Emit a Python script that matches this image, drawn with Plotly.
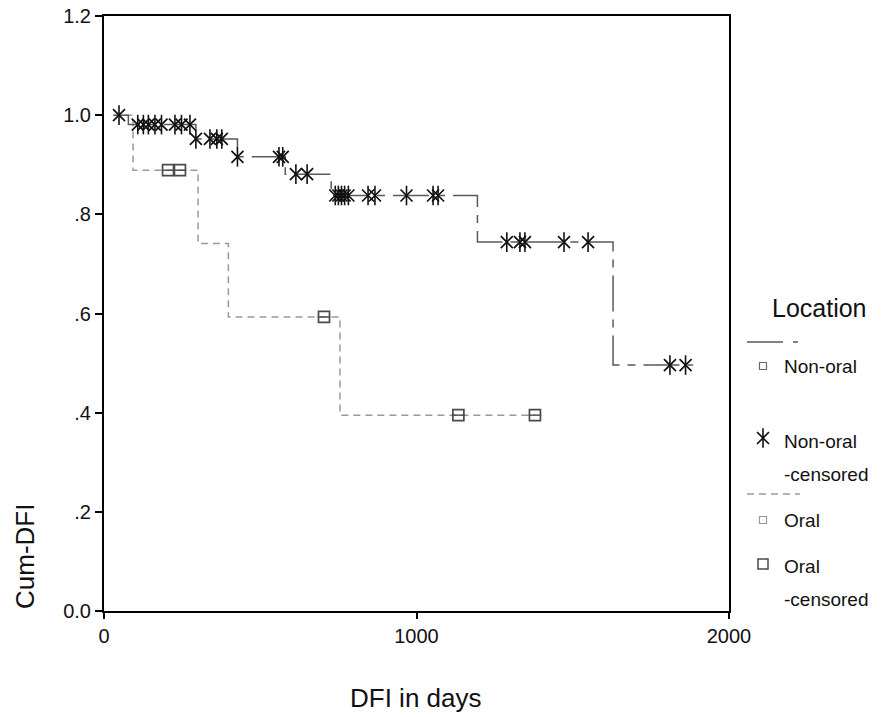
import plotly.graph_objects as go

W, H = 883, 717
FONT = "Liberation Sans, Arial, sans-serif"

# ---------------- data ----------------
# Non-oral group: Kaplan-Meier step curve
nonoral_step_days = [30, 78, 294, 427, 580, 727, 1195, 1629, 1885]
nonoral_step_surv = [1.0, 0.981, 0.952, 0.916, 0.881, 0.838, 0.744, 0.496, 0.496]
# Non-oral censored cases
nonoral_cens_days = [48, 108, 126, 142, 163, 184, 227, 248, 275,
                     294, 339, 361, 377,
                     427, 560, 572,
                     614, 650,
                     740, 750, 760, 770, 782, 845, 867, 968, 1053, 1069,
                     1289, 1331, 1347, 1472, 1549,
                     1811, 1861]
nonoral_cens_surv = [1.0, 0.981, 0.981, 0.981, 0.981, 0.981, 0.981, 0.981, 0.981,
                     0.952, 0.952, 0.952, 0.952,
                     0.916, 0.916, 0.916,
                     0.881, 0.881,
                     0.838, 0.838, 0.838, 0.838, 0.838, 0.838, 0.838, 0.838, 0.838, 0.838,
                     0.744, 0.744, 0.744, 0.744, 0.744,
                     0.496, 0.496]

# Oral group
oral_step_days = [30, 93, 301, 398, 755, 1379]
oral_step_surv = [1.0, 0.889, 0.741, 0.593, 0.395, 0.395]
oral_cens_days = [205, 243, 704, 1134, 1379]
oral_cens_surv = [0.889, 0.889, 0.593, 0.395, 0.395]

x_tickvals = [0, 1000, 2000]
x_ticktext = ["0", "1000", "2000"]
y_tickvals = [0.0, 0.2, 0.4, 0.6, 0.8, 1.0, 1.2]
y_ticktext = ["0.0", ".2", ".4", ".6", ".8", "1.0", "1.2"]

# ---------------- colours / styles ----------------
NONORAL_LINE = "#5a5a5a"
ORAL_LINE = "#9a9a9a"
AST = "#111111"
ORAL_MK = "#4a4a4a"
NONORAL_DASH = "36px,8px,8px,8px"
ORAL_DASH = "7px,5px"

# plot area in pixels
PL, PR, PT, PB = 104, 729, 16, 611

fig = go.Figure()

# Oral step curve
fig.add_trace(go.Scatter(x=oral_step_days, y=oral_step_surv, mode="lines",
                         line=dict(shape="hv", color=ORAL_LINE, width=1.5, dash=ORAL_DASH),
                         hoverinfo="skip"))
# Non-oral step curve
fig.add_trace(go.Scatter(x=nonoral_step_days, y=nonoral_step_surv, mode="lines",
                         line=dict(shape="hv", color=NONORAL_LINE, width=1.5, dash=NONORAL_DASH),
                         hoverinfo="skip"))
# Oral censored markers
fig.add_trace(go.Scatter(x=oral_cens_days, y=oral_cens_surv, mode="markers",
                         marker=dict(symbol="square-open", size=11, color=ORAL_MK,
                                     line=dict(width=1.7, color=ORAL_MK))))
fig.add_trace(go.Scatter(x=oral_cens_days, y=oral_cens_surv, mode="markers",
                         marker=dict(symbol="line-ew-open", size=9, color=ORAL_MK,
                                     line=dict(width=1.4, color=ORAL_MK))))
# Non-oral censored markers (6-armed asterisk)
fig.add_trace(go.Scatter(x=nonoral_cens_days, y=nonoral_cens_surv, mode="markers",
                         marker=dict(symbol="x-thin-open", size=12, color=AST,
                                     line=dict(width=1.7, color=AST))))
fig.add_trace(go.Scatter(x=nonoral_cens_days, y=nonoral_cens_surv, mode="markers",
                         marker=dict(symbol="line-ns-open", size=14, color=AST,
                                     line=dict(width=1.6, color=AST))))

# ---------------- legend (pixel overlay axes) ----------------
LX0, LX1 = 747, 783
LMK, LTX = 763, 782
ly_line1, ly_no, ly_noc, ly_line2, ly_or, ly_orc = 342, 366, 441, 494, 520, 566

fig.add_trace(go.Scatter(x=[LX0, LX1], y=[ly_line1, ly_line1], mode="lines", xaxis="x2", yaxis="y2",
                         line=dict(color=NONORAL_LINE, width=1.5)))
fig.add_trace(go.Scatter(x=[793, 798], y=[ly_line1, ly_line1], mode="lines", xaxis="x2", yaxis="y2",
                         line=dict(color=NONORAL_LINE, width=1.5)))
fig.add_trace(go.Scatter(x=[LX0, 800], y=[ly_line2, ly_line2], mode="lines", xaxis="x2", yaxis="y2",
                         line=dict(color=ORAL_LINE, width=1.5, dash=ORAL_DASH)))
fig.add_trace(go.Scatter(x=[LMK], y=[ly_no], mode="markers", xaxis="x2", yaxis="y2",
                         marker=dict(symbol="square-open", size=7, color="#6a6a6a",
                                     line=dict(width=1.2, color="#6a6a6a"))))
fig.add_trace(go.Scatter(x=[LMK], y=[ly_or], mode="markers", xaxis="x2", yaxis="y2",
                         marker=dict(symbol="square-open", size=7, color="#9a9a9a",
                                     line=dict(width=1.2, color="#9a9a9a"))))
fig.add_trace(go.Scatter(x=[LMK], y=[ly_noc - 3], mode="markers", xaxis="x2", yaxis="y2",
                         marker=dict(symbol="x-thin-open", size=12, color=AST,
                                     line=dict(width=1.6, color=AST))))
fig.add_trace(go.Scatter(x=[LMK], y=[ly_noc - 3], mode="markers", xaxis="x2", yaxis="y2",
                         marker=dict(symbol="line-ns-open", size=14, color=AST,
                                     line=dict(width=1.6, color=AST))))
fig.add_trace(go.Scatter(x=[LMK], y=[ly_orc - 2], mode="markers", xaxis="x2", yaxis="y2",
                         marker=dict(symbol="square-open", size=10, color=ORAL_MK,
                                     line=dict(width=1.5, color=ORAL_MK))))

anns = []
def txt(x, y, s, size=19, anchor="left", angle=0):
    anns.append(dict(x=x, y=y, xref="x2", yref="y2", text=s, showarrow=False,
                     xanchor=anchor, yanchor="middle", textangle=angle,
                     font=dict(family=FONT, size=size, color="#111111")))

txt(819, 308, "Location", size=25, anchor="center")
txt(LTX, ly_no, "Non-oral")
txt(LTX, ly_noc, "Non-oral")
txt(LTX, ly_noc + 33, "-censored")
txt(LTX, ly_or, "Oral")
txt(LTX, ly_orc, "Oral")
txt(LTX, ly_orc + 33, "-censored")
# axis titles
txt(416, 698, "DFI in days", size=26, anchor="center")
txt(25, 557, "Cum-DFI", size=26, anchor="center", angle=-90)

fig.update_layout(
    template="none",
    width=W, height=H, autosize=False,
    margin=dict(l=0, r=0, t=0, b=0, pad=0),
    paper_bgcolor="white", plot_bgcolor="rgba(0,0,0,0)",
    showlegend=False,
    font=dict(family=FONT, size=20, color="#111111"),
    annotations=anns,
    xaxis=dict(domain=[PL / W, PR / W], range=[0, 2000], automargin=False,
               tickvals=x_tickvals, ticktext=x_ticktext,
               showgrid=False, zeroline=False, showline=True, mirror=True,
               linecolor="black", linewidth=2, ticks="outside", ticklen=6,
               tickwidth=1.5, tickcolor="black",
               tickfont=dict(family=FONT, size=20, color="#111111")),
    yaxis=dict(domain=[1 - PB / H, 1 - PT / H], range=[0, 1.2], automargin=False,
               tickvals=y_tickvals, ticktext=y_ticktext,
               showgrid=False, zeroline=False, showline=True, mirror=True,
               linecolor="black", linewidth=2, ticks="outside", ticklen=7,
               tickwidth=1.5, tickcolor="black",
               tickfont=dict(family=FONT, size=20, color="#111111")),
    xaxis2=dict(domain=[0, 1], range=[0, W], visible=False, anchor="y2", automargin=False),
    yaxis2=dict(domain=[0, 1], range=[H, 0], visible=False, anchor="x2", automargin=False),
)

fig.write_html("out.html", config={"responsive": False})
